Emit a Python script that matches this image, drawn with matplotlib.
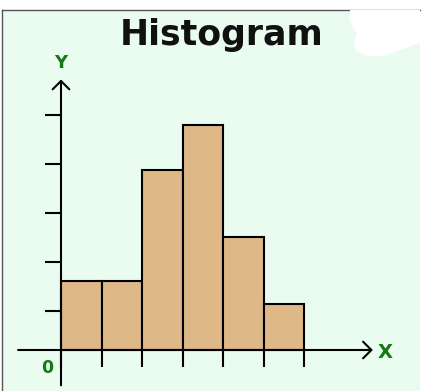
import matplotlib.pyplot as plt
import numpy as np
from matplotlib.patches import Rectangle, Polygon

# bin edges (in bin units) and bar heights
bin_edges = [0, 1, 2, 3, 4, 5, 6]
frequencies = [7, 7, 18.4, 23, 11.5, 4.7]
y_ticks = [4, 9, 14, 19, 24]

bar_color = '#deb887'
bg_color = '#eafbef'
label_green = '#137a13'

W, H = 428, 391
fig = plt.figure(figsize=(W / 100, H / 100), dpi=100)
fig.patch.set_facecolor('white')

# light green card with thin border on top and left
fig.patches.append(Rectangle((2 / W, 0), 418 / W, (H - 10) / H, transform=fig.transFigure,
                             facecolor=bg_color, edgecolor='none', zorder=-2))
fig.lines.append(plt.Line2D([2 / W, 2 / W], [0, (H - 10) / H], transform=fig.transFigure,
                            color='#555555', lw=1.0, zorder=-1))
fig.lines.append(plt.Line2D([2 / W, 420 / W], [(H - 10) / H, (H - 10) / H], transform=fig.transFigure,
                            color='#555555', lw=1.0, zorder=-1))

# white smudge in the top right corner
blob = [(350, 10), (349, 18), (353, 27), (357, 33), (354, 41), (356, 50), (366, 56),
        (382, 56), (400, 50), (420, 43), (420, 10)]
fig.patches.append(Polygon([(x / W, 1 - y / H) for x, y in blob], closed=True,
                           transform=fig.transFigure, facecolor='white', edgecolor='none', zorder=-1))

ax = fig.add_axes([0, 0, 1, 1])
ax.set_zorder(2)
ax.set_axis_off()
px_x, x0 = 40.5, 61
px_y, y0 = 9.8, 41
ax.set_xlim(-x0 / px_x, (W - x0) / px_x)
ax.set_ylim(-y0 / px_y, (H - y0) / px_y)

widths = np.diff(bin_edges)
ax.bar(bin_edges[:-1], frequencies, width=widths, align='edge', color=bar_color,
       edgecolor='black', linewidth=1.5, zorder=2)

# axes with open arrow heads
arrow = dict(arrowstyle='->,head_length=0.6,head_width=0.6', lw=1.5, color='black',
             shrinkA=0, shrinkB=0)
ax.annotate('', xy=(7.7, 0), xytext=(-1.06, 0), arrowprops=arrow, zorder=3)
ax.annotate('', xy=(0, 27.6), xytext=(0, -3.6), arrowprops=arrow, zorder=3)

# tick marks
for e in bin_edges:
    ax.plot([e, e], [0, -1.75], color='black', lw=1.5, zorder=3, solid_capstyle='butt')
for t in y_ticks:
    ax.plot([-0.4, 0], [t, t], color='black', lw=1.5, zorder=3, solid_capstyle='butt')

ax.text(0, 29.5, 'Y', color=label_green, fontsize=13, fontweight='bold', ha='center',
        va='center_baseline')
ax.text(8.0, -0.1, 'X', color=label_green, fontsize=14, fontweight='bold', ha='center',
        va='center_baseline')
ax.text(-0.35, -1.6, '0', color=label_green, fontsize=12.5, fontweight='bold', ha='center',
        va='center_baseline')

ax.text(222 / W, 1 - 35 / H, 'Histogram', fontsize=25, fontweight='bold', color='#111111',
        ha='center', va='center', family='DejaVu Sans', transform=fig.transFigure)

fig.savefig('out.png', dpi=100)
